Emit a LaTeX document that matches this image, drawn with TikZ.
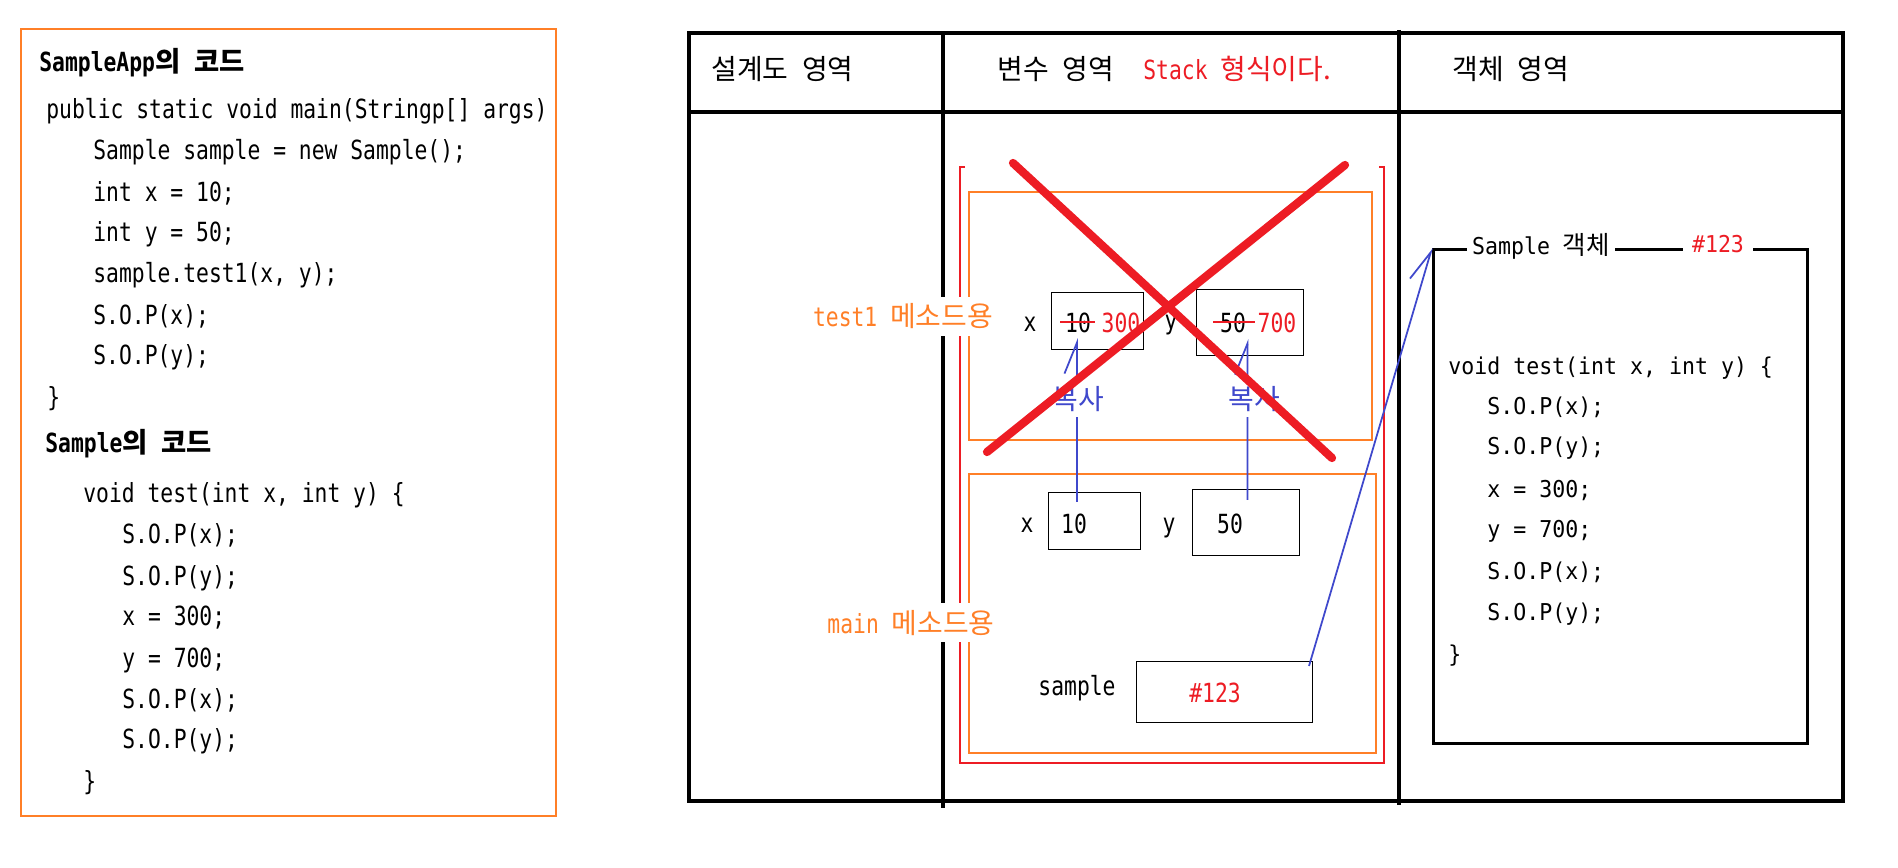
\documentclass[tikz,border=0pt]{standalone}
\usepackage{fontspec}
\usetikzlibrary{arrows.meta}
\newfontfamily\codefont[FakeStretch=0.81]{DejaVu Sans Mono}
\newfontfamily\objfont[FakeStretch=0.93]{DejaVu Sans Mono}
\newfontfamily\krcode[Scale=1.04, WordSpace=2.2]{Noto Sans CJK KR}
\newfontfamily\krobj[Scale=1.1]{Noto Sans CJK KR}
\newfontfamily\krdiag[Scale=1.06, WordSpace=2.2]{Noto Sans CJK KR}
\definecolor{paintred}{RGB}{237,28,36}
\definecolor{paintorange}{RGB}{255,127,39}
\definecolor{paintblue}{RGB}{63,72,204}

\begin{document}
\begin{tikzpicture}[x=0.02cm, y=-0.02cm,
    codeline/.style={anchor=base west, inner sep=0pt, font=\codefont\fontsize{15}{18}\selectfont},
    objline/.style={anchor=base west, inner sep=0pt, font=\objfont\fontsize{13.2}{16}\selectfont},
    headtext/.style={anchor=base west, inner sep=0pt, font=\codefont\fontsize{15}{18}\selectfont},
    valtext/.style={anchor=base, inner sep=0pt, font=\codefont\fontsize{15}{18}\selectfont},
    varcell/.style={draw, line width=0.6pt, anchor=north west, inner sep=0pt},
    tableline/.style={line width=1.8pt},
    methodframe/.style={draw=paintorange, line width=1.6pt},
    methodlabel/.style={anchor=base, fill=white, text=paintorange, inner xsep=1pt, inner ysep=4pt, font=\codefont\fontsize{15}{18}\selectfont},
    copylabel/.style={anchor=base, fill=white, text=paintblue, inner xsep=0pt, inner ysep=2.5pt, font=\krdiag\fontsize{15}{18}\selectfont},
    copyarrow/.style={draw=paintblue, line width=1pt, -{Straight Barb[left, length=0.62cm, width=0.5cm]}},
    objlabel/.style={anchor=base, fill=white, inner ysep=3pt, font=\objfont\fontsize{13.2}{16}\selectfont},
    crossline/.style={draw=paintred, line width=4.7pt, line cap=round},
    strikeline/.style={draw=paintred, line width=1.5pt}]
    \path[use as bounding box, fill=white] (0,0) rectangle (1898,868);

    % code of the two classes
    \draw[paintorange, line width=0.9pt] (21,29) rectangle (556,816);
    \node[codeline] (apptitle) at (39,72) {\bfseries SampleApp{\krcode 의 코드}};
    \node[codeline] (a1) at (46,119) {public static void main(Stringp[] args)};
    \node[codeline] (a2) at (93,160) {Sample sample = new Sample();};
    \node[codeline] (a3) at (93,202) {int x = 10;};
    \node[codeline] (a4) at (93,242) {int y = 50;};
    \node[codeline] (a5) at (93,283) {sample.test1(x, y);};
    \node[codeline] (a6) at (93,325) {S.O.P(x);};
    \node[codeline] (a7) at (93,365) {S.O.P(y);};
    \node[codeline] (a8) at (47,406) {\}};
    \node[codeline] (sampletitle) at (45,453) {\bfseries Sample{\krcode 의 코드}};
    \node[codeline] (s1) at (83,502) {void test(int x, int y) \{};
    \node[codeline] (s2) at (122,543) {S.O.P(x);};
    \node[codeline] (s3) at (122,585) {S.O.P(y);};
    \node[codeline] (s4) at (122,625) {x = 300;};
    \node[codeline] (s5) at (122,667) {y = 700;};
    \node[codeline] (s6) at (122,708) {S.O.P(x);};
    \node[codeline] (s7) at (122,748) {S.O.P(y);};
    \node[codeline] (s8) at (83,790) {\}};

    % memory table
    \draw[tableline] (689,33) rectangle (1843,801);
    \draw[tableline] (689,112) -- (1843,112);
    \draw[tableline] (943,33) -- (943,808);
    \draw[tableline] (1399,30) -- (1399,805);
    \node[headtext] (blueprint) at (711,80) {{\krdiag 설계도 영역}};
    \node[headtext] (vararea) at (997,80) {{\krdiag 변수 영역}};
    \node[headtext, text=paintred] (stacknote) at (1143,80) {Stack {\krdiag 형식이다.}};
    \node[headtext] (objarea) at (1452,80) {{\krdiag 객체 영역}};

    % stack
    \draw[paintred, line width=1.6pt] (965,167) -| (960,763) -| (1384,167) -- (1379,167);
    \draw[methodframe] (969,192) rectangle (1372,440);
    \draw[methodframe] (969,474) rectangle (1376,753);

    \node[varcell, minimum width=1.84cm, minimum height=1.14cm] (tx) at (1051,292) {};
    \node[varcell, minimum width=2.14cm, minimum height=1.32cm] (ty) at (1196,289) {};
    \node[valtext] (txname) at (1030,332) {x};
    \node[valtext] (txold) at (1078,333) {10};
    \node[valtext, text=paintred] (txnew) at (1121,333) {300};
    \node[valtext] (tyname) at (1171,330) {y};
    \node[valtext] (tyold) at (1233,333) {50};
    \node[valtext, text=paintred] (tynew) at (1277,333) {700};

    \node[varcell, minimum width=1.84cm, minimum height=1.14cm] (mx) at (1048,492) {};
    \node[varcell, minimum width=2.14cm, minimum height=1.32cm] (my) at (1192,489) {};
    \node[valtext] (mxname) at (1027,532) {x};
    \node[valtext] (mxval) at (1074,533) {10};
    \node[valtext] (myname) at (1169,532) {y};
    \node[valtext] (myval) at (1230,533) {50};

    \node[varcell, minimum width=3.52cm, minimum height=1.22cm] (sbox) at (1136,661) {};
    \node[valtext] (sname) at (1077,695) {sample};
    \node[valtext, text=paintred] (sval) at (1215,702) {\#123};

    % object
    \node[draw, line width=1.6pt, anchor=north west, inner sep=0pt, minimum width=7.48cm, minimum height=9.88cm] (obj) at (1432,248) {};
    \node[objlabel, inner xsep=3pt] (objname) at (1541,255) {Sample {\krobj 객체}};
    \node[objlabel, inner xsep=5pt, text=paintred] (objaddr) at (1718,253) {\#123};
    \node[objline] (o1) at (1448,375) {void test(int x, int y) \{};
    \node[objline] (o2) at (1487,415) {S.O.P(x);};
    \node[objline] (o3) at (1487,455) {S.O.P(y);};
    \node[objline] (o4) at (1487,497) {x = 300;};
    \node[objline] (o5) at (1487,537) {y = 700;};
    \node[objline] (o6) at (1487,579) {S.O.P(x);};
    \node[objline] (o7) at (1487,620) {S.O.P(y);};
    \node[objline] (o8) at (1448,662) {\}};

    \draw[copyarrow] ([xshift=0.58cm, yshift=-0.2cm]mx.north west) -- ([xshift=0.52cm, yshift=0.24cm]tx.south west);
    \draw[copyarrow] ([xshift=1.11cm, yshift=-0.22cm]my.north west) -- ([xshift=1.03cm, yshift=0.34cm]ty.south west);
    \draw[copyarrow] ([xshift=-0.08cm, yshift=-0.1cm]sbox.north east) -- (obj.north west);
    \node[copylabel] (xcopy) at (1078,410) {복사};
    \node[copylabel] (ycopy) at (1254,410) {복사};

    \node[methodlabel] (test1label) at (903,327) {test1 {\krdiag 메소드용}};
    \node[methodlabel] (mainlabel) at (911,633) {main {\krdiag 메소드용}};

    \draw[strikeline] (1060,322) -- (1095,322);
    \draw[strikeline] (1213,322) -- (1255,322);
    \draw[crossline] (1013,163) -- (1332,458);
    \draw[crossline] (1345,165) -- (987,452);
\end{tikzpicture}
\end{document}
